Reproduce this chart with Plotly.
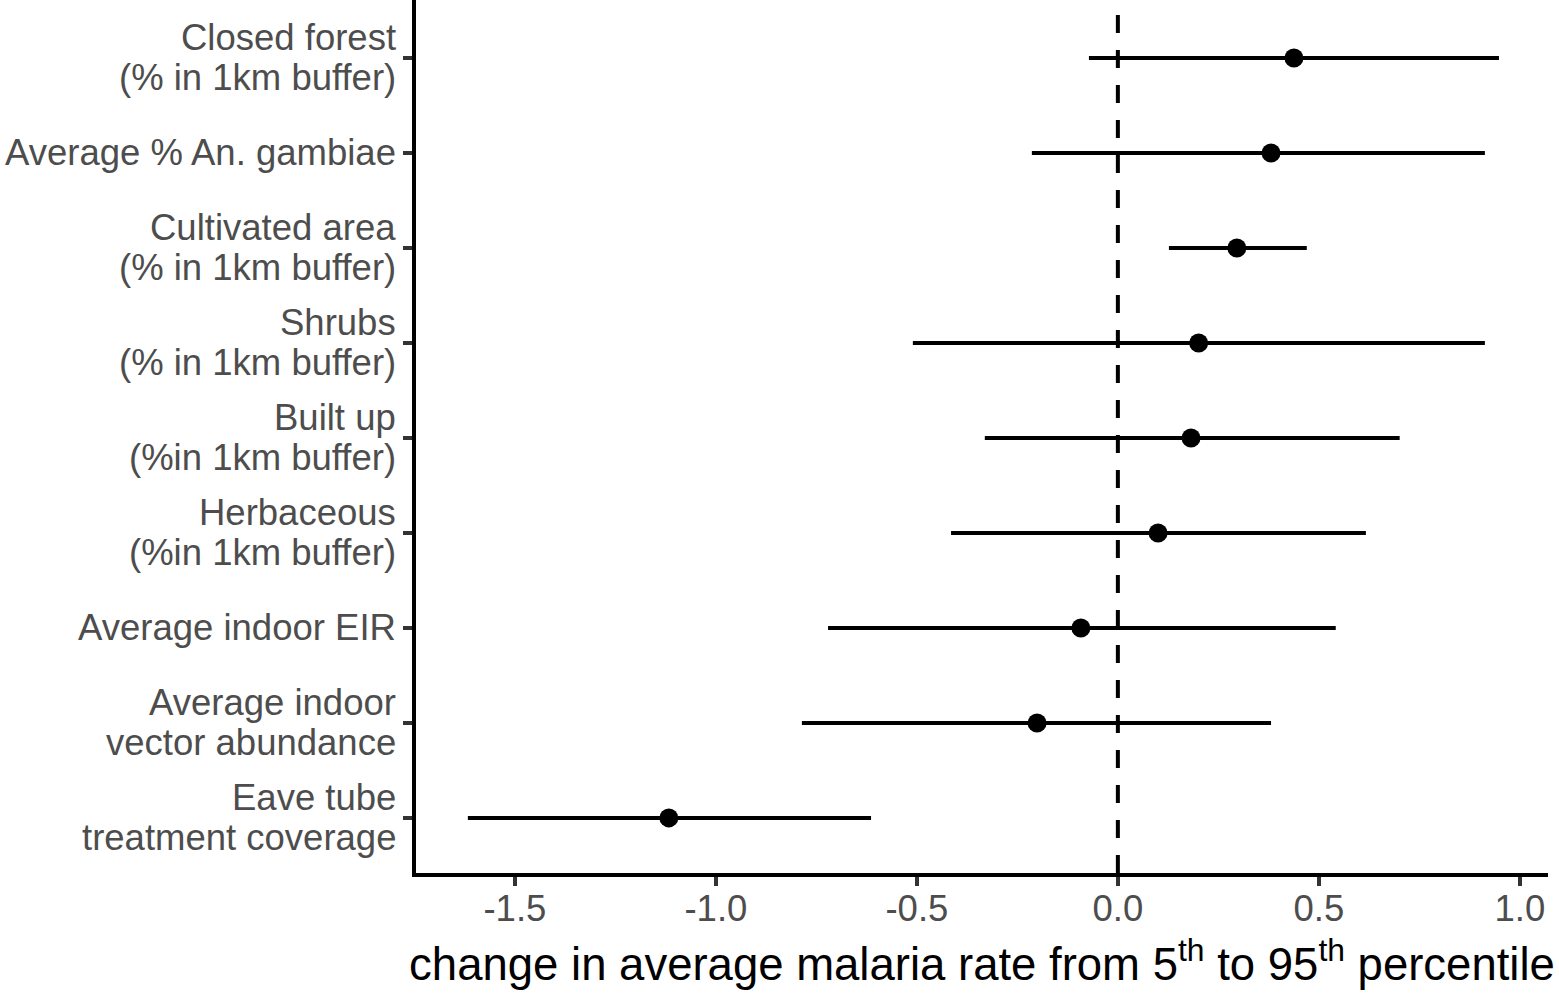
import plotly.graph_objects as go

# Covariates, bottom to top (as drawn on the y axis)
labels = [
    "Eave tube<br>treatment coverage",
    "Average indoor<br>vector abundance",
    "Average indoor EIR",
    "Herbaceous<br>(%in 1km buffer)",
    "Built up<br>(%in 1km buffer)",
    "Shrubs<br>(% in 1km buffer)",
    "Cultivated area<br>(% in 1km buffer)",
    "Average % An. gambiae",
    "Closed forest<br>(% in 1km buffer)",
]
estimate = [-1.117, -0.201, -0.092, 0.100, 0.182, 0.201, 0.296, 0.381, 0.438]
lower = [-1.617, -0.786, -0.721, -0.415, -0.331, -0.510, 0.127, -0.214, -0.072]
upper = [-0.614, 0.381, 0.542, 0.617, 0.701, 0.913, 0.470, 0.913, 0.948]

x_ticks = [-1.5, -1.0, -0.5, 0.0, 0.5, 1.0]

FONT = "Liberation Sans, Arial, sans-serif"
TEXT_GREY = "#4D4D4D"
LABEL_SIZE = 36.5
LINE_GAP = 40  # ggplot packs label lines tighter than plotly's <br>

fig = go.Figure()
fig.add_trace(
    go.Scatter(
        x=estimate,
        y=labels,
        mode="markers",
        marker={"color": "black", "size": 19},
        error_x={
            "type": "data",
            "symmetric": False,
            "array": [u - e for u, e in zip(upper, estimate)],
            "arrayminus": [e - l for e, l in zip(estimate, lower)],
            "color": "black",
            "thickness": 4,
            "width": 0,
        },
        showlegend=False,
        hoverinfo="skip",
    )
)

fig.add_vline(x=0, line={"color": "black", "width": 4, "dash": "18px,17px"}, layer="below")

# y labels as one annotation per line so the line spacing matches
for lab in labels:
    lines = lab.split("<br>")
    n = len(lines)
    for i, txt in enumerate(lines):
        fig.add_annotation(
            x=0,
            xref="paper",
            y=lab,
            yref="y",
            text=txt,
            showarrow=False,
            xanchor="right",
            yanchor="middle",
            xshift=-18,
            yshift=((n - 1) / 2 - i) * LINE_GAP,
            font={"family": FONT, "size": LABEL_SIZE, "color": TEXT_GREY},
        )

fig.update_layout(
    width=1559,
    height=996,
    margin={"l": 416, "r": 11, "t": 0, "b": 123},
    plot_bgcolor="white",
    paper_bgcolor="white",
    xaxis={
        "range": [-1.746, 1.07],
        "tickvals": x_ticks,
        "ticktext": [f"{v:.1f}" for v in x_ticks],
        "tickfont": {"family": FONT, "size": LABEL_SIZE, "color": TEXT_GREY},
        "ticklabelstandoff": -9,
        "showgrid": False,
        "zeroline": False,
        "showline": True,
        "linecolor": "black",
        "linewidth": 4,
        "ticks": "outside",
        "ticklen": 9,
        "tickwidth": 4,
        "tickcolor": "#333333",
        "title": {
            "text": "change in average malaria rate from 5<sup>th</sup> to 95<sup>th</sup> percentile",
            "font": {"family": FONT, "size": 45.5, "color": "black"},
            "standoff": 21,
        },
    },
    yaxis={
        "type": "category",
        "categoryorder": "array",
        "categoryarray": labels,
        "range": [-0.58, 8.61],
        "showticklabels": False,
        "showgrid": False,
        "zeroline": False,
        "showline": True,
        "linecolor": "black",
        "linewidth": 4,
        "ticks": "outside",
        "ticklen": 9,
        "tickwidth": 4,
        "tickcolor": "#333333",
    },
)

fig.write_html(
    "out.html",
    config={"displayModeBar": False},
    post_script="document.body.style.margin='0';",
)
